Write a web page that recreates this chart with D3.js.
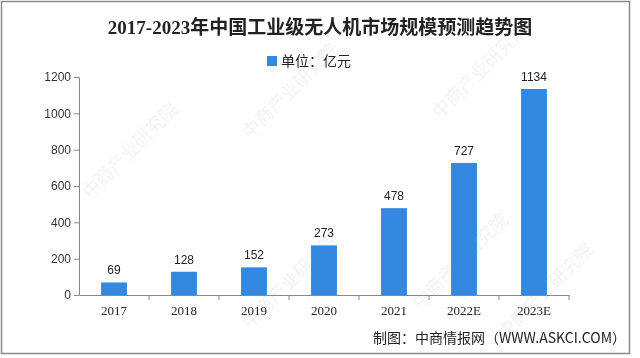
<!DOCTYPE html>
<html><head><meta charset="utf-8">
<script src="https://cdn.jsdelivr.net/npm/d3@7"></script>
<style>body{margin:0;background:#fff}svg{display:block}</style>
</head><body>
<script>
const categories = ["2017","2018","2019","2020","2021","2022E","2023E"];
const values = [69,128,152,273,478,727,1134];
const yTicks = [0,200,400,600,800,1000,1200];
const title = "2017-2023年中国工业级无人机市场规模预测趋势图";
const legendLabel = "单位：亿元";
const sourceText = "制图：中商情报网（WWW.ASKCI.COM）";
const watermark = "中商产业研究院";

const W = 640, H = 358;
const svg = d3.select("body").append("svg").attr("width", W).attr("height", H);
svg.append("rect").attr("width", W).attr("height", H).attr("fill", "#fff");

// faint watermarks
const wm = svg.append("g").attr("fill", "#d0d4da").attr("opacity", 0.3)
  .attr("font-family", "Noto Sans CJK SC").attr("font-size", 18);
const wmPos = [[90,200],[250,140],[440,120],[250,330],[420,310],[505,340]];
wmPos.forEach(([px,py]) => {
  wm.append("text").attr("transform", `translate(${px},${py}) rotate(-45)`).text(watermark);
});

// frame
svg.append("rect").attr("x", 1.5).attr("y", 1.5).attr("width", 628).attr("height", 352)
  .attr("fill", "none").attr("stroke", "#8a8a8a").attr("stroke-width", 1.5);

const x = d3.scaleBand().domain(categories).range([79, 569]).paddingInner(0.63).paddingOuter(0.315);
const y = d3.scaleLinear().domain([0, 1200]).range([295, 77]);

svg.append("text").attr("x", 320).attr("y", 34).attr("text-anchor", "middle")
  .attr("font-family", "'Liberation Serif','Noto Sans CJK SC'").attr("font-weight", "bold")
  .attr("font-size", 19).attr("fill", "#222").text(title);

svg.append("rect").attr("x", 267).attr("y", 56).attr("width", 10).attr("height", 10).attr("fill", "#3389e0");
svg.append("text").attr("x", 281).attr("y", 66).attr("font-family", "'Noto Sans CJK SC'")
  .attr("font-size", 14).attr("fill", "#222").text(legendLabel);

const yAxis = svg.append("g").attr("transform", "translate(79,0)")
  .call(d3.axisLeft(y).tickValues(yTicks).tickFormat(d3.format("d")).tickSize(5).tickSizeOuter(0));
yAxis.select(".domain").attr("stroke", "#888");
yAxis.selectAll(".tick line").attr("stroke", "#888");
yAxis.selectAll("text").attr("font-family", "'Liberation Sans',Arial").attr("font-size", 12).attr("fill", "#333");

const xAxis = svg.append("g").attr("transform", "translate(0,295)")
  .call(d3.axisBottom(x).tickSize(0).tickSizeOuter(0));
xAxis.select(".domain").attr("stroke", "#888");
xAxis.selectAll("text").attr("font-family", "'Liberation Serif'").attr("font-size", 13).attr("fill", "#222").attr("dy", "1.3em");
const step = x.step();
svg.append("g").selectAll("line").data(d3.range(1, categories.length + 1)).join("line")
  .attr("x1", i => 79 + i * step).attr("x2", i => 79 + i * step)
  .attr("y1", 295).attr("y2", 300).attr("stroke", "#888");

svg.append("g").selectAll("rect").data(values).join("rect")
  .attr("x", (d, i) => x(categories[i])).attr("width", x.bandwidth())
  .attr("y", d => y(d)).attr("height", d => 295 - y(d)).attr("fill", "#3389e0");

svg.append("g").selectAll("text").data(values).join("text")
  .attr("x", (d, i) => x(categories[i]) + x.bandwidth() / 2).attr("y", d => y(d) - 8)
  .attr("text-anchor", "middle").attr("font-family", "'Liberation Sans',Arial")
  .attr("font-size", 12).attr("fill", "#222").text(d => d);

svg.append("text").attr("x", 626).attr("y", 343).attr("text-anchor", "end")
  .attr("font-family", "'Noto Sans CJK SC'").attr("font-size", 14).attr("fill", "#222").text(sourceText);
</script>
</body></html>
